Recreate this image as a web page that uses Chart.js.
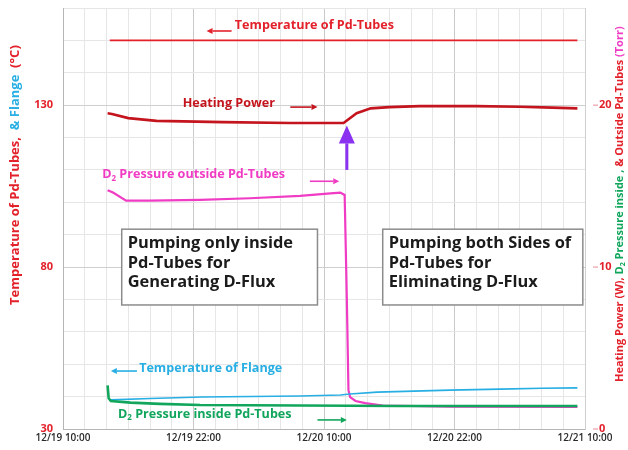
<!DOCTYPE html>
<html>
<head>
<meta charset="utf-8">
<script src="https://cdn.jsdelivr.net/npm/chart.js@4/dist/chart.umd.min.js"></script>
<style>
  html, body { margin: 0; padding: 0; background: #ffffff; }
  #wrap { width: 628px; height: 450px; }
</style>
</head>
<body>
<div id="wrap"><canvas id="c" width="628" height="450"></canvas></div>
<script>
// Time axis: hours elapsed since 12/19 10:00
const timeTickLabels = ['12/19 10:00', '12/19 22:00', '12/20 10:00', '12/20 22:00', '12/21 10:00'];
const leftTickLabels = [30, 80, 130];
const rightTickLabels = [0, 10, 20];

// Temperature of Pd-Tubes (°C, left axis)
const tubeTempHours = [4.3, 47.3];
const tubeTempC     = [150, 150];

// Temperature of Flange (°C, left axis)
const flangeHours = [4.4, 8, 12.8, 21.8, 25.5, 26.4, 28.9, 35.6, 40.2, 44, 47.3];
const flangeC     = [39.0, 39.4, 39.9, 40.2, 40.5, 40.8, 41.4, 42.0, 42.3, 42.6, 42.7];

// Heating Power (W, right axis)
const powerHours = [4.1, 4.5, 6.0, 8.6, 14.7, 20.9, 25.5, 25.8, 27.0, 28.3, 30.0, 32.8, 38.0, 42.0, 45.0, 47.3];
const powerW     = [19.5, 19.45, 19.2, 19.03, 18.95, 18.9, 18.9, 18.9, 19.5, 19.8, 19.88, 19.94, 19.94, 19.9, 19.85, 19.8];

// D2 Pressure outside Pd-Tubes (Torr, right axis)
const outsideHours = [4.1, 4.6, 5.8, 8.0, 12.6, 17.2, 21.8, 24.6, 25.5, 25.9, 26.1, 26.25, 26.4, 26.9, 27.8, 29.4, 35.6, 47.3];
const outsideTorr  = [14.75, 14.6, 14.1, 14.1, 14.15, 14.25, 14.4, 14.55, 14.6, 14.45, 8.0, 2.4, 1.97, 1.73, 1.6, 1.45, 1.38, 1.36];

// D2 Pressure inside Pd-Tubes (Torr, right axis)
const insideHours = [4.1, 4.2, 4.4, 6.2, 8.9, 12.6, 21.8, 31.0, 47.3];
const insideTorr  = [2.7, 1.9, 1.73, 1.63, 1.55, 1.48, 1.45, 1.42, 1.42];

const RED = '#e3212b';
const DARKRED = '#c4141d';
const MAGENTA = '#f03cc4';
const CYAN = '#27aee3';
const GREEN = '#11a65c';
const PURPLE = '#8a32f0';
const FONT = "'Open Sans', 'Noto Sans', sans-serif";
const LABEL_SIZE = 12.6;

const toPoints = (xs, ys) => xs.map((x, i) => ({ x, y: ys[i] }));

function drawRich(ctx, x, y, segs, size, weight) {
  let cx = x;
  for (const s of segs) {
    const fs = s.sub ? Math.round(size * 0.62) : size;
    ctx.font = weight + ' ' + fs + 'px ' + FONT;
    ctx.fillStyle = s.color;
    ctx.fillText(s.text, cx, y + (s.sub ? size * 0.3 : 0));
    cx += ctx.measureText(s.text).width;
  }
  return cx - x;
}

function drawArrow(ctx, x1, y1, x2, y2, color, width, headLen, headHalf) {
  const ang = Math.atan2(y2 - y1, x2 - x1);
  const bx = x2 - headLen * Math.cos(ang), by = y2 - headLen * Math.sin(ang);
  ctx.strokeStyle = color;
  ctx.lineWidth = width;
  ctx.beginPath();
  ctx.moveTo(x1, y1);
  ctx.lineTo(bx, by);
  ctx.stroke();
  ctx.fillStyle = color;
  ctx.beginPath();
  ctx.moveTo(x2, y2);
  ctx.lineTo(bx + headHalf * Math.sin(ang), by - headHalf * Math.cos(ang));
  ctx.lineTo(bx - headHalf * Math.sin(ang), by + headHalf * Math.cos(ang));
  ctx.closePath();
  ctx.fill();
}

// Labels, arrows, boxes and axis titles
const overlay = {
  id: 'overlay',
  afterDraw(chart) {
    const ctx = chart.ctx;
    const xs = chart.scales.x, yl = chart.scales.y, yr = chart.scales.y2;
    const X = h => xs.getPixelForValue(h);
    const L = v => yl.getPixelForValue(v);
    const R = v => yr.getPixelForValue(v);
    ctx.save();
    ctx.textBaseline = 'middle';
    ctx.textAlign = 'left';

    // series labels
    drawRich(ctx, X(15.8), L(154.7), [{ text: 'Temperature of Pd-Tubes', color: RED }], LABEL_SIZE, 'bold');
    drawArrow(ctx, X(15.5), L(152.9), X(13.2), L(152.9), RED, 1.6, 6, 3);

    drawRich(ctx, X(11.0), L(130.6), [{ text: 'Heating Power', color: DARKRED }], LABEL_SIZE, 'bold');
    drawArrow(ctx, X(20.9), L(129.4), X(23.4), L(129.4), DARKRED, 1.6, 6, 3);

    drawRich(ctx, X(3.6), R(15.7), [
      { text: 'D', color: MAGENTA }, { text: '2', color: MAGENTA, sub: true },
      { text: ' Pressure outside Pd-Tubes', color: MAGENTA }], LABEL_SIZE, 'bold');
    drawArrow(ctx, X(22.7), R(15.3), X(25.4), R(15.3), MAGENTA, 1.6, 6, 3);

    drawRich(ctx, X(7.0), L(48.8), [{ text: 'Temperature of Flange', color: CYAN }], LABEL_SIZE, 'bold');
    drawArrow(ctx, X(6.8), L(47.9), X(4.4), L(47.9), CYAN, 1.6, 6, 3);

    drawRich(ctx, X(5.06), R(0.93), [
      { text: 'D', color: GREEN }, { text: '2', color: GREEN, sub: true },
      { text: ' Pressure inside Pd-Tubes', color: GREEN }], LABEL_SIZE, 'bold');
    drawArrow(ctx, X(23.4), R(0.56), X(26.1), R(0.56), GREEN, 1.6, 6, 3);

    // switch-over marker
    drawArrow(ctx, X(26.1), R(16.0), X(26.1), R(18.75), PURPLE, 3, 18, 8);

    // phase boxes
    const boxes = [
      { h0: 5.4, h1: 23.4, lines: ['Pumping only inside', 'Pd-Tubes for', 'Generating D-Flux'] },
      { h0: 29.4, h1: 47.8, lines: ['Pumping both Sides of', 'Pd-Tubes for', 'Eliminating D-Flux'] }
    ];
    for (const b of boxes) {
      const x0 = X(b.h0), x1 = X(b.h1), y0 = L(91.7), y1 = L(68.3);
      ctx.fillStyle = '#ffffff';
      ctx.fillRect(x0, y0, x1 - x0, y1 - y0);
      ctx.strokeStyle = '#8c8c8c';
      ctx.lineWidth = 1.5;
      ctx.strokeRect(x0, y0, x1 - x0, y1 - y0);
      ctx.font = 'bold 16.4px ' + FONT;
      ctx.fillStyle = '#1b1b1b';
      b.lines.forEach((t, i) => ctx.fillText(t, x0 + 6, y0 + 14.5 + i * 19.5));
    }

    // right-axis tick dashes
    ctx.strokeStyle = '#e88a96';
    ctx.lineWidth = 1;
    for (const v of rightTickLabels) {
      ctx.beginPath();
      ctx.moveTo(593, R(v));
      ctx.lineTo(598, R(v));
      ctx.stroke();
    }

    // left axis title
    ctx.save();
    ctx.translate(15, 305);
    ctx.rotate(-Math.PI / 2);
    drawRich(ctx, 0, 0, [
      { text: 'Temperature of Pd-Tubes,', color: RED },
      { text: '  & Flange', color: CYAN },
      { text: '  (°C)', color: RED }], 13, 'bold');
    ctx.restore();

    // right axis title
    ctx.save();
    ctx.translate(620, 382);
    ctx.rotate(-Math.PI / 2);
    drawRich(ctx, 0, 0, [
      { text: 'Heating Power (W), ', color: RED },
      { text: 'D', color: GREEN }, { text: '2', color: GREEN, sub: true },
      { text: ' Pressure inside ,', color: GREEN },
      { text: ' & Outside Pd-Tubes', color: RED },
      { text: ' (Torr)', color: MAGENTA }], 11, 'bold');
    ctx.restore();

    ctx.restore();
  }
};

const line = (data, color, width, axis) => ({
  data, borderColor: color, borderWidth: width, yAxisID: axis,
  pointRadius: 0, tension: 0, fill: false
});

// keep the plot box fixed: no extra room reserved for edge tick labels
const noEdgePadding = s => { s.paddingTop = 0; s.paddingBottom = 0; s.paddingLeft = 0; s.paddingRight = 0; };

new Chart(document.getElementById('c'), {
  type: 'line',
  data: {
    datasets: [
      line(toPoints(insideHours, insideTorr), GREEN, 2.6, 'y2'),
      line(toPoints(tubeTempHours, tubeTempC), RED, 1.6, 'y'),
      line(toPoints(powerHours, powerW), DARKRED, 2.6, 'y2'),
      line(toPoints(flangeHours, flangeC), CYAN, 1.6, 'y'),
      line(toPoints(outsideHours, outsideTorr), MAGENTA, 2.2, 'y2')
    ]
  },
  options: {
    responsive: false,
    animation: false,
    layout: { padding: { top: 8, left: 0, right: 0, bottom: 0 } },
    plugins: { legend: { display: false }, tooltip: { enabled: false } },
    scales: {
      x: {
        type: 'linear', min: 0, max: 48,
        afterFit: s => { s.height = 21; noEdgePadding(s); },
        ticks: {
          stepSize: 2, autoSkip: false, maxRotation: 0, padding: 3,
          color: '#2a2a2a', font: { family: FONT, size: 10, weight: '600' },
          callback: v => (v % 12 === 0 ? timeTickLabels[v / 12] : '')
        },
        grid: {
          drawTicks: false,
          color: c => (c.tick && c.tick.value % 12 === 0 ? '#c9c9c9' : '#e6e6e6')
        },
        border: { color: '#b5b5b5' }
      },
      y: {
        position: 'left', min: 30, max: 160,
        afterFit: s => { s.width = 63; noEdgePadding(s); },
        ticks: {
          stepSize: 10, padding: 10, color: RED,
          font: { family: FONT, size: 11, weight: 'bold' },
          callback: v => (leftTickLabels.includes(v) ? String(v) : '')
        },
        grid: {
          drawTicks: false,
          color: c => (c.tick && leftTickLabels.includes(c.tick.value) ? '#cfcfcf' : '#e6e6e6')
        },
        border: { color: '#b5b5b5' }
      },
      y2: {
        position: 'right', min: 0, max: 26,
        afterFit: s => { s.width = 43; noEdgePadding(s); },
        ticks: {
          stepSize: 10, padding: 14, color: RED,
          font: { family: FONT, size: 11, weight: 'bold' },
          callback: v => (rightTickLabels.includes(v) ? String(v) : '')
        },
        grid: { display: false, drawTicks: false },
        border: { display: true, color: '#d0d0d0' }
      }
    }
  },
  plugins: [overlay]
});
</script>
</body>
</html>
